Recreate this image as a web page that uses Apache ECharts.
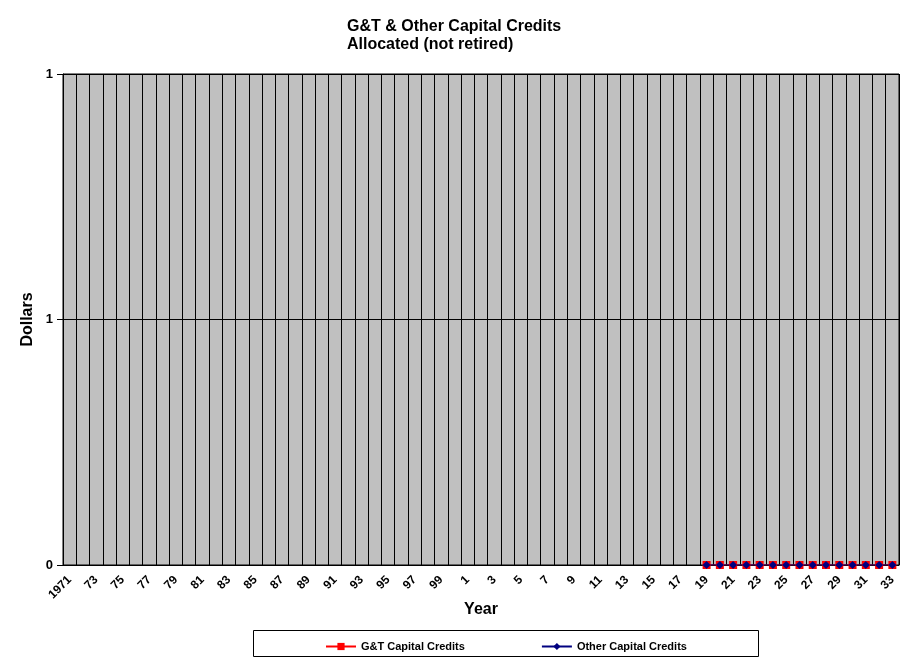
<!DOCTYPE html>
<html>
<head>
<meta charset="utf-8">
<script src="https://cdn.jsdelivr.net/npm/echarts@6/dist/echarts.min.js"></script>
<style>html,body{margin:0;padding:0;background:#fff;}#c{width:909px;height:660px;}</style>
</head>
<body>
<div id="c"></div>
<script>
var years = ['1971','72','73','74','75','76','77','78','79','80','81','82','83','84','85','86','87','88','89','90','91','92','93','94','95','96','97','98','99','0','1','2','3','4','5','6','7','8','9','10','11','12','13','14','15','16','17','18','19','20','21','22','23','24','25','26','27','28','29','30','31','32','33'];
var gtCredits = [null,null,null,null,null,null,null,null,null,null,null,null,null,null,null,null,null,null,null,null,null,null,null,null,null,null,null,null,null,null,null,null,null,null,null,null,null,null,null,null,null,null,null,null,null,null,null,null,0,0,0,0,0,0,0,0,0,0,0,0,0,0,0];
var otherCredits = [null,null,null,null,null,null,null,null,null,null,null,null,null,null,null,null,null,null,null,null,null,null,null,null,null,null,null,null,null,null,null,null,null,null,null,null,null,null,null,null,null,null,null,null,null,null,null,null,0,0,0,0,0,0,0,0,0,0,0,0,0,0,0];
var yTicks = [0, 0.5, 1];

var font = 'Liberation Sans, Arial, sans-serif';
var chart = echarts.init(document.getElementById('c'), null, {renderer: 'canvas'});
chart.setOption({
  animation: false,
  backgroundColor: '#ffffff',
  title: {
    text: 'G&T & Other Capital Credits\nAllocated (not retired)',
    left: 342, top: 13,
    textStyle: {fontFamily: font, fontSize: 16, fontWeight: 'bold', color: '#000', lineHeight: 18}
  },
  grid: {
    left: 63, right: 10, top: 74, bottom: 95,
    show: true, backgroundColor: '#c0c0c0', borderColor: '#000', borderWidth: 1
  },
  legend: {
    left: 320, top: 636, itemWidth: 30, itemHeight: 9, itemGap: 76,
    textStyle: {fontFamily: font, fontSize: 11, fontWeight: 'bold', color: '#000'},
    data: ['G&T Capital Credits', 'Other Capital Credits']
  },
  graphic: [{
    type: 'rect', shape: {x: 253.5, y: 630.5, width: 505, height: 26},
    style: {fill: null, stroke: '#000', lineWidth: 1}, silent: true
  }],
  xAxis: {
    type: 'category', data: years, boundaryGap: true,
    name: 'Year', nameLocation: 'middle', nameGap: 37, nameMoveOverlap: false,
    nameTextStyle: {fontFamily: font, fontSize: 16, fontWeight: 'bold', color: '#000'},
    axisLine: {lineStyle: {color: '#000', width: 1}},
    axisTick: {show: false},
    axisLabel: {interval: 1, rotate: 45, fontFamily: font, fontSize: 12, fontWeight: 'bold', color: '#000', margin: 13},
    splitLine: {show: true, interval: 0, lineStyle: {color: '#000', width: 1}}
  },
  yAxis: {
    type: 'value', min: 0, max: 1, interval: 0.5,
    name: 'Dollars', nameLocation: 'middle', nameGap: 27, nameMoveOverlap: false,
    nameTextStyle: {fontFamily: font, fontSize: 16, fontWeight: 'bold', color: '#000'},
    axisLine: {show: true, lineStyle: {color: '#000', width: 1}},
    axisTick: {show: true, length: 6, lineStyle: {color: '#000'}},
    axisLabel: {fontFamily: font, fontSize: 13, fontWeight: 'bold', color: '#000', margin: 10,
      formatter: function(v){ return yTicks.indexOf(v) >= 0 ? String(Math.round(v)) : ''; }},
    splitLine: {show: true, lineStyle: {color: '#000', width: 1}}
  },
  series: [{
    name: 'G&T Capital Credits', type: 'line', data: gtCredits,
    color: '#ff0000', symbol: 'rect', symbolSize: 8, showAllSymbol: true,
    lineStyle: {color: '#ff0000', width: 1},
    itemStyle: {color: '#ff0000'}
  }, {
    name: 'Other Capital Credits', type: 'line', data: otherCredits,
    color: '#000080', symbol: 'diamond', symbolSize: 8, showAllSymbol: true,
    lineStyle: {color: '#000080', width: 1},
    itemStyle: {color: '#000080'}
  }]
});
</script>
</body>
</html>
